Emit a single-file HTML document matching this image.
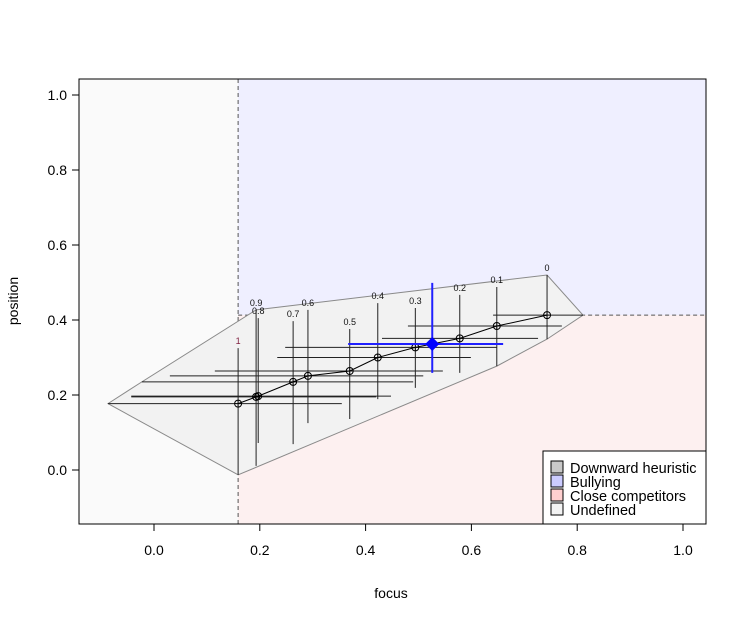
<!DOCTYPE html>
<html><head><meta charset="utf-8"><style>
body{margin:0;background:#fff;font-family:"Liberation Sans",Arial,sans-serif}
svg text{font-family:"Liberation Sans",Arial,sans-serif}
</style></head><body>
<svg id="chart" width="747" height="623" xmlns="http://www.w3.org/2000/svg">
<defs><clipPath id="pc"><rect x="79" y="79" width="627" height="445"/></clipPath></defs>
<g id="plot" clip-path="url(#pc)"></g>
<g clip-path="url(#pc)">
<rect x="543" y="451" width="175" height="80" fill="#fff" stroke="#000"/>
<rect x="551" y="461" width="12" height="12" fill="#c8c8c8" stroke="#000"/>
<text x="570" y="473" font-size="14.5">Downward heuristic</text>
<rect x="551" y="475" width="12" height="12" fill="#ccccff" stroke="#000"/>
<text x="570" y="487" font-size="14.5">Bullying</text>
<rect x="551" y="489" width="12" height="12" fill="#ffd0d0" stroke="#000"/>
<text x="570" y="501" font-size="14.5">Close competitors</text>
<rect x="551" y="503" width="12" height="12" fill="#f2f2f2" stroke="#000"/>
<text x="570" y="515" font-size="14.5">Undefined</text>
</g>
<rect x="79" y="79" width="627" height="445" fill="none" stroke="#000"/>
<g id="axes"></g>
<text x="391" y="598" font-size="14" text-anchor="middle">focus</text>
<text x="18" y="301" font-size="14" text-anchor="middle" transform="rotate(-90 18 301)">position</text>
</svg>
<script>
const labels=["1","0.9","0.8","0.7","0.6","0.5","0.4","0.3","0.2","0.1","0"];
const focusVals=[0.159,0.193,0.197,0.263,0.291,0.370,0.423,0.494,0.578,0.648,0.743];
const positionVals=[0.177,0.195,0.197,0.235,0.251,0.264,0.300,0.327,0.351,0.384,0.413];
const focusLow=[-0.087,-0.043,-0.043,-0.023,0.030,0.115,0.233,0.248,0.431,0.480,0.641];
const focusHigh=[0.355,0.420,0.448,0.490,0.509,0.546,0.599,0.648,0.726,0.771,0.811];
const posLow=[-0.013,0.011,0.072,0.069,0.125,0.136,0.189,0.219,0.259,0.277,0.349];
const posHigh=[0.325,0.427,0.405,0.397,0.427,0.376,0.445,0.432,0.467,0.488,0.520];
const refFocus=[0.526], refPos=[0.336], refFLow=[0.367], refFHigh=[0.660], refPLow=[0.259], refPHigh=[0.499];
const xTicks=[0,0.2,0.4,0.6,0.8,1.0], xTickLabels=["0.0","0.2","0.4","0.6","0.8","1.0"];
const yTicks=[0,0.2,0.4,0.6,0.8,1.0], yTickLabels=["0.0","0.2","0.4","0.6","0.8","1.0"];
const xThresh=0.159, yThresh=0.413;

const X=v=>154+v*529, Y=v=>470-v*375;
const NS="http://www.w3.org/2000/svg";
const plot=document.getElementById('plot'), axes=document.getElementById('axes');
function mk(parent,tag,attrs){const e=document.createElementNS(NS,tag);for(const k in attrs)e.setAttribute(k,attrs[k]);parent.appendChild(e);return e;}

let r=mk(plot,'rect',{x:79,y:79,width:627,height:445,fill:'#fafafa'});


r=mk(plot,'rect',{x:X(xThresh),y:79,width:706-X(xThresh),height:Y(yThresh)-79,fill:'#efefff'});


r=mk(plot,'rect',{x:X(xThresh),y:Y(yThresh),width:706-X(xThresh),height:524-Y(yThresh),fill:'#fdf0f0'});


let d=mk(plot,'line',{x1:X(xThresh),y1:79,x2:X(xThresh),y2:524,stroke:'#555','stroke-dasharray':'4,3'});


d=mk(plot,'line',{x1:X(xThresh),y1:Y(yThresh),x2:706,y2:Y(yThresh),stroke:'#555','stroke-dasharray':'4,3'});



let pts=[];
for(let i=0;i<labels.length;i++){
  pts.push([X(focusLow[i]),Y(positionVals[i])],[X(focusHigh[i]),Y(positionVals[i])],[X(focusVals[i]),Y(posLow[i])],[X(focusVals[i]),Y(posHigh[i])]);
}
pts.sort((a,b)=>a[0]-b[0]||a[1]-b[1]);
const cr=(o,a,b)=>(a[0]-o[0])*(b[1]-o[1])-(a[1]-o[1])*(b[0]-o[0]);
let lo=[],up=[];
for(const p of pts){while(lo.length>=2&&cr(lo[lo.length-2],lo[lo.length-1],p)<=0)lo.pop();lo.push(p);}
for(const p of pts.slice().reverse()){while(up.length>=2&&cr(up[up.length-2],up[up.length-1],p)<=0)up.pop();up.push(p);}
const hull=lo.slice(0,-1).concat(up.slice(0,-1));
let h=mk(plot,'polygon',{points:hull.map(p=>p.join(',')).join(' '),fill:'#f2f2f2',stroke:'#8a8a8a','stroke-width':1});



for(let i=0;i<labels.length;i++){
  let l=mk(plot,'line',{x1:X(focusLow[i]),y1:Y(positionVals[i]),x2:X(focusHigh[i]),y2:Y(positionVals[i]),stroke:'#222','stroke-width':1});
  
  
  l=mk(plot,'line',{x1:X(focusVals[i]),y1:Y(posLow[i]),x2:X(focusVals[i]),y2:Y(posHigh[i]),stroke:'#222','stroke-width':1});
  
  
  let t=mk(plot,'text',{x:X(focusVals[i]),y:Y(posHigh[i])-4,'font-size':9,'text-anchor':'middle',fill:i==0?'#802040':'#111'});
  t.textContent=labels[i];
  
  
}
let pl=mk(plot,'polyline',{points:focusVals.map((v,i)=>X(v)+','+Y(positionVals[i])).join(' '),fill:'none',stroke:'#000','stroke-width':1});


for(let i=0;i<labels.length;i++){
  const cx=X(focusVals[i]),cy=Y(positionVals[i]);
  let c=mk(plot,'circle',{cx:cx,cy:cy,r:3.5,fill:'none',stroke:'#000'});
  
  
  mk(plot,'line',{x1:cx-3.5,y1:cy,x2:cx+3.5,y2:cy,stroke:'#000','stroke-width':0.8});
  mk(plot,'line',{x1:cx,y1:cy-3.5,x2:cx,y2:cy+3.5,stroke:'#000','stroke-width':0.8});
}
for(let i=0;i<refFocus.length;i++){
  let l=mk(plot,'line',{x1:X(refFLow[i]),y1:Y(refPos[i]),x2:X(refFHigh[i]),y2:Y(refPos[i]),stroke:'#2020ff','stroke-width':2});
  
  
  l=mk(plot,'line',{x1:X(refFocus[i]),y1:Y(refPLow[i]),x2:X(refFocus[i]),y2:Y(refPHigh[i]),stroke:'#2020ff','stroke-width':2});
  
  
  const cx=X(refFocus[i]),cy=Y(refPos[i]);
  let p=mk(plot,'polygon',{points:`${cx},${cy-7} ${cx+7},${cy} ${cx},${cy+7} ${cx-7},${cy}`,fill:'#0000ff'});
  
  
}
for(let i=0;i<xTicks.length;i++){
  const x=X(xTicks[i]);
  mk(axes,'line',{x1:x,y1:524,x2:x,y2:531,stroke:'#000'});
  let t=mk(axes,'text',{x:x,y:555,'font-size':14,'text-anchor':'middle'});
  t.textContent=xTickLabels[i];
  
  
}
for(let i=0;i<yTicks.length;i++){
  const y=Y(yTicks[i]);
  mk(axes,'line',{x1:72,y1:y,x2:79,y2:y,stroke:'#000'});
  let t=mk(axes,'text',{x:67,y:y+5,'font-size':14,'text-anchor':'end'});
  t.textContent=yTickLabels[i];
  
  
}
</script>
</body></html>
